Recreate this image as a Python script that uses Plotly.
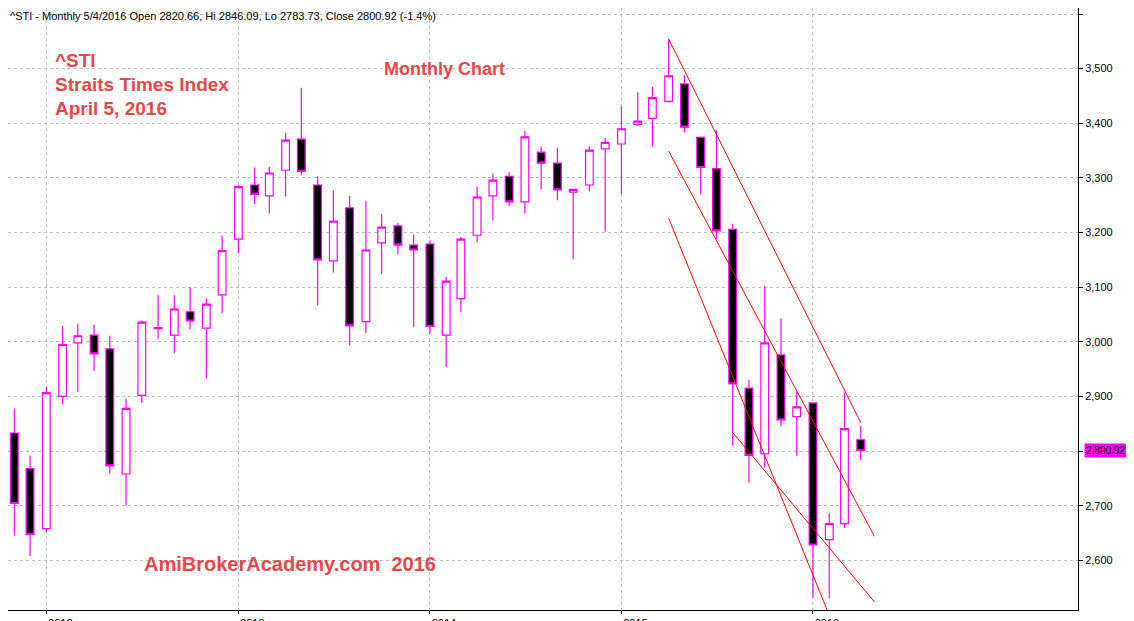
import plotly.graph_objects as go
import pandas as pd

# Monthly ^STI candles, Nov 2011 - Apr 2016
fechas = pd.date_range("2011-11-01", "2016-04-01", freq="MS")
open_ = [2833, 2768, 2658, 2900, 2998, 3012, 2987, 2758, 2902, 3024, 3012, 3055, 3025, 3086,
         3188, 3287, 3267, 3314, 3371, 3287, 3148, 3245, 3037, 3181, 3212, 3177,
         3179, 3012, 3079, 3195, 3267, 3303, 3256, 3347, 3327, 3274, 3287, 3353,
         3362, 3398, 3409, 3440, 3472, 3374, 3317, 3206, 2915, 2795, 2976, 2863,
         2888, 2638, 2667, 2820.66]
high = [2878, 2792, 2917, 3029, 3033, 3031, 3011, 2896, 3039, 3085, 3085, 3100, 3079, 3194,
        3287, 3319, 3320, 3382, 3465, 3303, 3277, 3267, 3258, 3234, 3218, 3196,
        3186, 3119, 3192, 3284, 3308, 3311, 3386, 3357, 3355, 3279, 3358, 3373,
        3432, 3457, 3467, 3554, 3488, 3376, 3387, 3216, 2930, 3102, 3043, 2909,
        2888, 2686, 2907, 2846.09]
low = [2645, 2608, 2652, 2885, 2908, 2947, 2759, 2701, 2888, 3005, 2979, 3023, 2933, 3052,
       3162, 3252, 3235, 3266, 3305, 3067, 3127, 2993, 3016, 3124, 3160, 3027,
       3014, 2954, 3054, 3182, 3222, 3248, 3235, 3279, 3259, 3151, 3275, 3202,
       3270, 3395, 3357, 3438, 3383, 3270, 3188, 2810, 2742, 2770, 2845, 2792,
       2532, 2530, 2659, 2783.73]
close = [2704, 2647, 2907, 2995, 3011, 2978, 2773, 2878, 3036, 3026, 3060, 3038, 3069, 3167,
         3284, 3270, 3309, 3369, 3312, 3150, 3221, 3029, 3168, 3210, 3177, 3168,
         3028, 3111, 3188, 3265, 3296, 3256, 3375, 3327, 3278, 3279, 3351, 3365,
         3390, 3404, 3447, 3487, 3393, 3319, 3203, 2923, 2792, 2998, 2857, 2881,
         2628, 2667, 2841, 2800.92]

# downtrend channel lines (start, end)
canal_x = [["2015-04-01", "2016-04-01"], ["2015-04-01", "2016-04-27"],
           ["2015-04-01", "2016-01-30"], ["2015-08-01", "2016-04-27"]]
canal_y = [[3554, 2852], [3349, 2644], [3226, 2504], [2834, 2524]]

rojo = "#E8474A"
magenta = "#FF00FF"

fig = go.Figure()
fig.add_trace(go.Candlestick(
    x=fechas, open=open_, high=high, low=low, close=close,
    increasing=dict(line=dict(color=magenta, width=1.2), fillcolor="white"),
    decreasing=dict(line=dict(color=magenta, width=1.2), fillcolor="black"),
    whiskerwidth=0, showlegend=False))

for cx, cy in zip(canal_x, canal_y):
    fig.add_trace(go.Scatter(x=cx, y=cy, mode="lines", showlegend=False,
                             line=dict(color="red", width=1)))

fig.update_layout(
    width=1134, height=621,
    margin=dict(l=0, r=64, t=0, b=19),
    plot_bgcolor="white", paper_bgcolor="white",
    font=dict(family="Arial, Liberation Sans, sans-serif", size=11, color="black"),
    boxgap=0.25,
)
fig.update_xaxes(
    type="date", range=["2011-10-20", "2017-05-20"],
    rangeslider_visible=False,
    tickvals=["2012-01-01", "2013-01-01", "2014-01-01", "2015-01-01", "2016-01-01"],
    ticktext=["2012", "2013", "2014", "2015", "2016"],
    ticks="outside", ticklen=3, tickcolor="black", ticklabelshift=14,
    showgrid=True, gridcolor="#BBBBBB", griddash="dot", gridwidth=1,
    showline=True, linecolor="black", linewidth=1,
)
fig.update_yaxes(
    side="right", range=[2509, 3611],
    tickvals=[2600, 2700, 2800, 2900, 3000, 3100, 3200, 3300, 3400, 3500, 3600],
    tickformat=",", ticks="outside", ticklen=4, tickcolor="black",
    showgrid=True, gridcolor="#BBBBBB", griddash="dot", gridwidth=1,
    showline=True, linecolor="black", linewidth=1, zeroline=False,
)

fig.add_annotation(x=0, y=1, xref="paper", yref="paper", xanchor="left", yanchor="top",
                   text="^STI - Monthly 5/4/2016 Open 2820.66, Hi 2846.09, Lo 2783.73, Close 2800.92 (-1.4%)",
                   showarrow=False, font=dict(size=11, color="black"))
for txt, yy in [("^STI", 40), ("Straits Times Index", 64), ("April 5, 2016", 88)]:
    fig.add_annotation(x=45 / 1070, y=1 - yy / 602, xref="paper", yref="paper", xanchor="left",
                       text=f"<b>{txt}</b>", showarrow=False, font=dict(size=19, color=rojo))
fig.add_annotation(x=374 / 1070, y=1 - 49 / 602, xref="paper", yref="paper", xanchor="left",
                   text="<b>Monthly Chart</b>", showarrow=False, font=dict(size=18, color=rojo))
fig.add_annotation(x=134 / 1070, y=1 - 569 / 602, xref="paper", yref="paper", xanchor="left",
                   text="<b>AmiBrokerAcademy.com  2016</b>", showarrow=False,
                   font=dict(size=20, color=rojo))
fig.add_annotation(x=1, xref="paper", y=close[-1], yref="y", xanchor="left",
                   text="2,800.92", showarrow=False, bgcolor=magenta, borderpad=1,
                   font=dict(size=10, color="black"), xshift=6)

fig.write_html("out.html")
